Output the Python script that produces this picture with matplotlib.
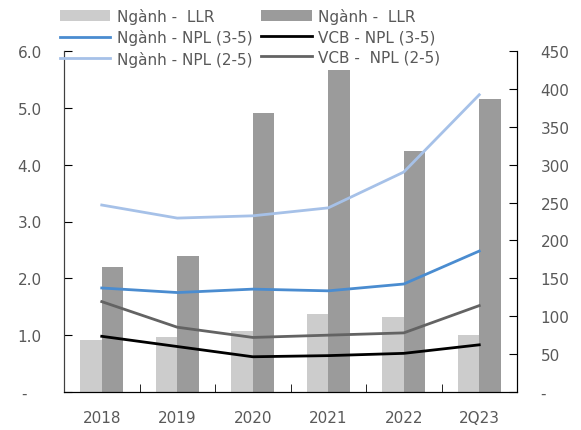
import matplotlib.pyplot as plt
import numpy as np

years = ['2018', '2019', '2020', '2021', '2022', '2Q23']

# LLR (%), right axis
llr_nganh = [68.6, 72.6, 80.9, 103, 99.4, 75.2]
llr_vcb = [165, 179, 368, 425, 318, 387]

# NPL (%), left axis
npl35_nganh = [1.83, 1.75, 1.81, 1.78, 1.90, 2.48]
npl25_nganh = [3.29, 3.06, 3.10, 3.24, 3.87, 5.23]
npl35_vcb = [0.98, 0.80, 0.62, 0.64, 0.68, 0.83]
npl25_vcb = [1.59, 1.14, 0.96, 1.00, 1.04, 1.52]

plt.rcParams['font.family'] = ['DejaVu Sans']
txt_color = '#595959'

fig = plt.figure(figsize=(5.81, 4.31), dpi=100)
ax = fig.add_axes([64 / 581, 1 - 393 / 431, 453 / 581, 341 / 431])
ax2 = ax.twinx()

x = np.arange(len(years))
w = 0.285

# bars on right axis (drawn behind lines)
b1 = ax2.bar(x - w / 2, llr_nganh, w, color='#CCCCCC', label='Ngành -  LLR')
b2 = ax2.bar(x + w / 2, llr_vcb, w, color='#9B9B9B', label='Ngành -  LLR')
ax2.set_ylim(0, 450)
ax2.set_yticks(np.arange(0, 451, 50))
ax2.set_yticklabels(['-'] + [str(v) for v in range(50, 451, 50)])

# lines on left axis, put left axis on top
ax.set_zorder(ax2.get_zorder() + 1)
ax.patch.set_visible(False)
l1, = ax.plot(x, npl35_nganh, color='#4A8CD0', lw=2, label='Ngành - NPL (3-5)')
l2, = ax.plot(x, npl25_nganh, color='#A6C1E8', lw=2, label='Ngành - NPL (2-5)')
l3, = ax.plot(x, npl35_vcb, color='black', lw=2, label='VCB - NPL (3-5)')
l4, = ax.plot(x, npl25_vcb, color='#636363', lw=2, label='VCB -  NPL (2-5)')
ax.set_ylim(0, 6)
ax.set_yticks(np.arange(0, 6.1, 1))
ax.set_yticklabels(['-   '] + ['%.1f' % v for v in range(1, 7)])

ax.set_xlim(-0.5, 5.5)
ax.set_xticks(x)
ax.set_xticklabels(years)
ax.set_xticks(np.arange(0.5, 5.5, 1), minor=True)
ax.tick_params(axis='x', which='major', length=0, pad=13, labelsize=11, labelcolor=txt_color)
ax.tick_params(axis='x', which='minor', direction='in', length=6, color='black')
ax.tick_params(axis='y', direction='in', length=6, labelsize=11, labelcolor=txt_color, pad=16)
ax2.tick_params(axis='y', direction='in', length=6, labelsize=11, labelcolor=txt_color, pad=17)

for a in (ax, ax2):
    a.spines['top'].set_visible(False)
    a.spines['left'].set_color('#404040')
    a.spines['right'].set_color('black')
    a.spines['bottom'].set_color('black')

# legend fills column by column
handles = [b1, l1, l2, b2, l3, l4]
labels = [h.get_label() for h in handles]
fig.legend(handles, labels, ncol=2, loc='upper left', bbox_to_anchor=(0.085, 1.005),
           frameon=False, fontsize=11, labelcolor=txt_color, handlelength=3.3,
           handletextpad=0.4, columnspacing=0.6, labelspacing=0.37, borderpad=0.2)

fig.savefig('out.png', dpi=100)
